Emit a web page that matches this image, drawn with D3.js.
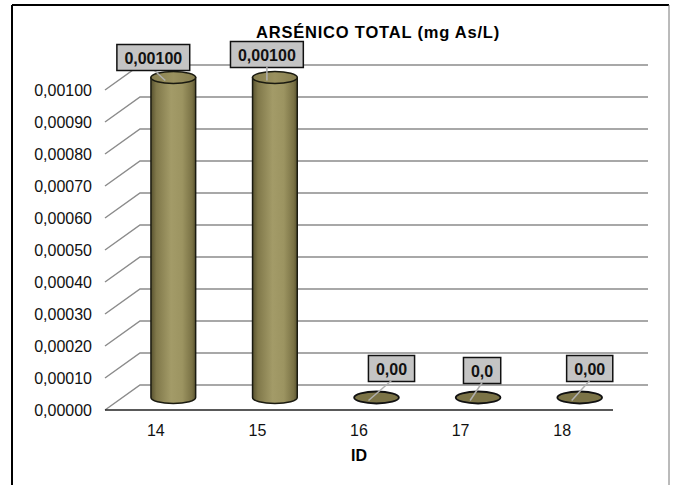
<!DOCTYPE html>
<html>
<head>
<meta charset="utf-8">
<script src="https://cdn.jsdelivr.net/npm/d3@7"></script>
<style>
  body { margin: 0; background: #fff; }
  svg { display: block; font-family: "Liberation Sans", Arial, sans-serif; }
</style>
</head>
<body>
<div id="chart"></div>
<script>
// chart data
const ids = ["14", "15", "16", "17", "18"];
const values = [0.001, 0.001, 0, 0, 0];
const valueLabels = ["0,00100", "0,00100", "0,00", "0,0", "0,00"];
const yTicks = [0, 0.0001, 0.0002, 0.0003, 0.0004, 0.0005, 0.0006, 0.0007, 0.0008, 0.0009, 0.001];
const titleText = "ARSÉNICO TOTAL (mg As/L)";
const xTitle = "ID";

// where each data label box sits relative to the top of its cylinder
const labelOffsets = [[-20, -20], [-8, -23], [15, -29], [4, -27], [10, -29]];

function init() {
    const W = 676, H = 485;
    const depthX = 35, depthY = -25; // 3d floor depth

    const svg = d3.select("#chart").append("svg")
        .attr("width", W).attr("height", H);

    const defs = svg.append("defs");
    const grad = defs.append("linearGradient").attr("id", "cyl")
        .attr("x1", "0%").attr("x2", "100%").attr("y1", "0%").attr("y2", "0%");
    [["0%", "#58522f"], ["12%", "#80784a"], ["45%", "#a39b68"], ["70%", "#9c9461"], ["92%", "#7a7245"], ["100%", "#5a5430"]]
        .forEach(s => grad.append("stop").attr("offset", s[0]).attr("stop-color", s[1]));
    const gradTop = defs.append("linearGradient").attr("id", "cylTop")
        .attr("x1", "0%").attr("x2", "100%").attr("y1", "0%").attr("y2", "0%");
    [["0%", "#857d4e"], ["50%", "#9a915f"], ["100%", "#857d4e"]]
        .forEach(s => gradTop.append("stop").attr("offset", s[0]).attr("stop-color", s[1]));

    // outer frame
    svg.append("line").attr("x1", 12).attr("x2", 12).attr("y1", 5).attr("y2", H)
        .attr("stroke", "#000").attr("stroke-width", 2);
    svg.append("line").attr("x1", 12).attr("x2", 669).attr("y1", 5).attr("y2", 5)
        .attr("stroke", "#000").attr("stroke-width", 2);
    svg.append("line").attr("x1", 669).attr("x2", 669).attr("y1", 5).attr("y2", H)
        .attr("stroke", "#777").attr("stroke-width", 1);

    // scales (front plane)
    const x = d3.scaleBand().domain(ids).range([105, 613]);
    const y = d3.scaleLinear().domain([0, 0.001]).range([410, 90]);

    // gridlines: diagonal on the side wall + horizontal on the back wall
    const grid = svg.append("g");
    yTicks.forEach(t => {
        grid.append("path")
            .attr("d", `M${x.range()[0]},${y(t)} L${x.range()[0] + depthX},${y(t) + depthY} L${x.range()[1] + depthX},${y(t) + depthY}`)
            .attr("fill", "none")
            .attr("stroke", "#8c8c8c")
            .attr("stroke-width", 1.5);
    });
    // front floor edge
    svg.append("line")
        .attr("x1", x.range()[0]).attr("x2", x.range()[1])
        .attr("y1", y(0)).attr("y2", y(0))
        .attr("stroke", "#222").attr("stroke-width", 1.5);

    // y tick labels
    svg.append("g").selectAll("text")
        .data(yTicks).enter().append("text")
        .attr("x", 92)
        .attr("y", d => y(d) + 5.5)
        .attr("text-anchor", "end")
        .style("font-size", "16px")
        .style("fill", "#111")
        .text(d => d.toFixed(5).replace(".", ","));

    // x tick labels
    svg.append("g").selectAll("text")
        .data(ids).enter().append("text")
        .attr("x", d => x(d) + x.bandwidth() / 2)
        .attr("y", 436)
        .attr("text-anchor", "middle")
        .style("font-size", "16px")
        .style("fill", "#111")
        .text(d => d);

    // cylinders (placed at mid depth)
    const rx = x.bandwidth() * 0.22, ry = 6;
    const cx = d => x(d) + x.bandwidth() / 2 + depthX / 2;
    const cyl = svg.append("g");
    ids.forEach((id, i) => {
        const c = cx(id);
        const yb = y(0) + depthY / 2;
        const yt = y(values[i]) + depthY / 2;
        if (yb - yt > 0.5) {
            cyl.append("path")
                .attr("d", `M${c - rx},${yt} L${c - rx},${yb} A${rx},${ry} 0 0 0 ${c + rx},${yb} L${c + rx},${yt} Z`)
                .attr("fill", "url(#cyl)")
                .attr("stroke", "#1a1a10")
                .attr("stroke-width", 1.5);
            cyl.append("ellipse")
                .attr("cx", c).attr("cy", yt).attr("rx", rx).attr("ry", ry)
                .attr("fill", "url(#cylTop)")
                .attr("stroke", "#1a1a10")
                .attr("stroke-width", 1.5);
        } else {
            cyl.append("ellipse")
                .attr("cx", c).attr("cy", yb).attr("rx", rx).attr("ry", ry)
                .attr("fill", "#7b7346")
                .attr("stroke", "#111")
                .attr("stroke-width", 1.8);
        }
    });

    // data labels with leader lines
    const labels = svg.append("g");
    ids.forEach((id, i) => {
        const c = cx(id);
        const yt = y(values[i]) + depthY / 2;
        const bx = c + labelOffsets[i][0];
        const by = yt + labelOffsets[i][1];
        labels.append("line")
            .attr("x1", c - 8).attr("y1", yt + 3)
            .attr("x2", bx).attr("y2", by + 12)
            .attr("stroke", "#b0b0b0").attr("stroke-width", 1.5);
        const t = labels.append("text")
            .attr("x", bx).attr("y", by + 6)
            .attr("text-anchor", "middle")
            .style("font-size", "16px")
            .style("font-weight", "bold")
            .style("fill", "#111")
            .text(valueLabels[i]);
        const w = t.node().getComputedTextLength() + 15;
        labels.insert("rect", "text")
            .attr("x", bx - w / 2).attr("y", by - 13)
            .attr("width", w).attr("height", 26)
            .attr("fill", "#c4c4c4")
            .attr("stroke", "#111")
            .attr("stroke-width", 1.5);
    });

    // titles
    svg.append("text")
        .attr("x", 378).attr("y", 38)
        .attr("text-anchor", "middle")
        .style("font-size", "16.5px")
        .style("font-weight", "bold")
        .style("letter-spacing", "0.8px")
        .text(titleText);

    svg.append("text")
        .attr("x", 359).attr("y", 461)
        .attr("text-anchor", "middle")
        .style("font-size", "16px")
        .style("font-weight", "bold")
        .text(xTitle);
}

window.onload = init;
</script>
</body>
</html>
